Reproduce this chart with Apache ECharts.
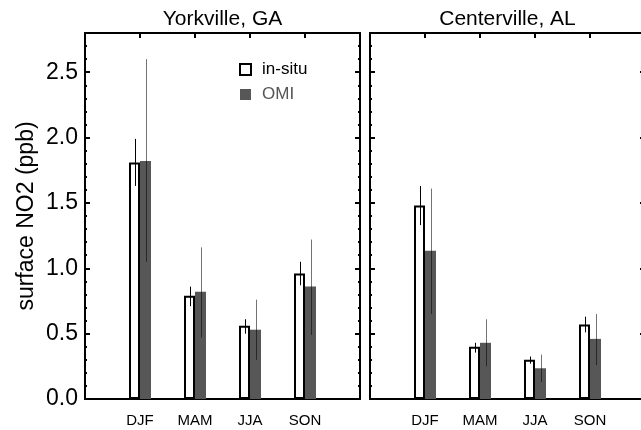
<!DOCTYPE html>
<html><head><meta charset="utf-8">
<script src="https://cdn.jsdelivr.net/npm/echarts@6/dist/echarts.min.js"></script>
<style>html,body{margin:0;padding:0;background:#fff;overflow:hidden;width:641px;height:430px}#c{width:660px;height:430px}</style>
</head><body><div id="c"></div>
<script>
const seasons = ['DJF', 'MAM', 'JJA', 'SON'];
const sites = ['Yorkville, GA', 'Centerville, AL'];
const seriesNames = ['in-situ', 'OMI'];
const yAxisName = 'surface NO2 (ppb)';
const yMin = 0, yMax = 2.8, yStep = 0.5;

const yorkInsitu   = [1.81, 0.79, 0.56, 0.96];
const yorkInsituLo = [1.63, 0.71, 0.50, 0.87];
const yorkInsituHi = [1.99, 0.86, 0.61, 1.05];
const yorkOmi      = [1.82, 0.82, 0.53, 0.86];
const yorkOmiLo    = [1.05, 0.47, 0.30, 0.49];
const yorkOmiHi    = [2.60, 1.16, 0.76, 1.22];

const centInsitu   = [1.48, 0.40, 0.30, 0.57];
const centInsituLo = [1.33, 0.355, 0.27, 0.51];
const centInsituHi = [1.63, 0.43, 0.325, 0.63];
const centOmi      = [1.135, 0.43, 0.235, 0.46];
const centOmiLo    = [0.65, 0.25, 0.13, 0.26];
const centOmiHi    = [1.61, 0.61, 0.34, 0.65];

const FONT = '"Liberation Sans", Arial, Helvetica, sans-serif';
const xCats = [''].concat(seasons, ['']);
const chart = echarts.init(document.getElementById('c'), null, {renderer: 'canvas'});

const panels = [
  {left: 85, ins: yorkInsitu, insLo: yorkInsituLo, insHi: yorkInsituHi, omi: yorkOmi, omiLo: yorkOmiLo, omiHi: yorkOmiHi},
  {left: 370, ins: centInsitu, insLo: centInsituLo, insHi: centInsituHi, omi: centOmi, omiLo: centOmiLo, omiHi: centOmiHi}
];
const W = 275, TOP = 33, H = 366, BARW = 11;

const line = {show: true, onZero: false, lineStyle: {color: '#000', width: 2}};
function yAx(gi, pos, labels, name) {
  return {
    type: 'value', gridIndex: gi, position: pos, min: yMin, max: yMax, interval: yStep,
    axisLine: line,
    axisTick: {show: true, inside: true, length: 5, lineStyle: {color: '#000', width: 2}},
    minorTick: {show: true, splitNumber: 5, length: 2, lineStyle: {color: '#000', width: 2}},
    splitLine: {show: false}, minorSplitLine: {show: false},
    axisLabel: {show: labels, margin: 7, fontSize: 23, color: '#000', fontFamily: FONT,
      formatter: v => (Math.abs(v / yStep - Math.round(v / yStep)) < 1e-6 ? v.toFixed(1) : '')},
    name: name || '', nameLocation: 'middle', nameGap: 47,
    nameTextStyle: {fontSize: 23, color: '#000', fontFamily: FONT}
  };
}
function xAx(gi, pos, labels) {
  return {
    type: 'category', gridIndex: gi, position: pos, data: xCats, boundaryGap: false,
    axisLine: line,
    axisTick: {show: true, inside: true, length: 5, interval: 0, lineStyle: {color: '#000', width: 2}},
    axisLabel: {show: labels, interval: 0, margin: 14, fontSize: 15, color: '#000', fontFamily: FONT},
    splitLine: {show: false}
  };
}

const grids = [], xAxes = [], yAxes = [], series = [];
panels.forEach((p, i) => {
  grids.push({left: p.left, top: TOP, width: W, height: H, containLabel: false});
  xAxes.push(xAx(i, 'bottom', true));
  xAxes.push(xAx(i, 'top', false));
  yAxes.push(yAx(i, 'left', i === 0, i === 0 ? yAxisName : ''));
  yAxes.push(yAx(i, 'right', false));
  const xi = i * 2, yi = i * 2;
  series.push({
    name: seriesNames[0], type: 'bar', xAxisIndex: xi, yAxisIndex: yi, barWidth: BARW, barGap: '0%',
    itemStyle: {color: '#fff', borderColor: '#000', borderWidth: 2},
    data: p.ins.map((v, k) => [k + 1, v]), z: 2
  });
  series.push({
    name: seriesNames[1], type: 'bar', xAxisIndex: xi, yAxisIndex: yi, barWidth: BARW, barGap: '0%',
    itemStyle: {color: '#575757'},
    data: p.omi.map((v, k) => [k + 1, v]), z: 2
  });
  const err = (lo, hi, dx, color, op) => ({
    type: 'custom', xAxisIndex: xi, yAxisIndex: yi, z: 5, silent: true,
    data: lo.map((v, k) => [k + 1, v, hi[k]]),
    renderItem: (params, api) => {
      const a = api.coord([api.value(0), api.value(1)]);
      const b = api.coord([api.value(0), api.value(2)]);
      const x = Math.round(a[0] + dx) + 0.5;
      return {type: 'line', shape: {x1: x, y1: a[1], x2: x, y2: b[1]},
        style: {stroke: color, lineWidth: 1, opacity: op}};
    }
  });
  series.push(err(p.insLo, p.insHi, -BARW / 2, '#000', 1));
  series.push(err(p.omiLo, p.omiHi, BARW / 2, '#000', 0.55));
});

chart.setOption({
  animation: false,
  backgroundColor: '#fff',
  textStyle: {fontFamily: FONT},
  title: sites.map((s, i) => ({
    text: s, left: panels[i].left + W / 2, top: 9, textAlign: 'center', padding: 0,
    textStyle: {fontSize: 21, fontWeight: 'normal', color: '#000', fontFamily: FONT}
  })),
  legend: {
    orient: 'vertical', left: 239, top: 61, padding: 0, itemWidth: 11, itemHeight: 11, itemGap: 8,
    icon: 'rect',
    textStyle: {fontSize: 17, fontFamily: FONT, padding: [0, 0, 0, 6]},
    data: [{name: seriesNames[0], textStyle: {color: '#000'}}, {name: seriesNames[1], textStyle: {color: '#555'}}]
  },
  grid: grids, xAxis: xAxes, yAxis: yAxes, series: series
});
</script></body></html>
